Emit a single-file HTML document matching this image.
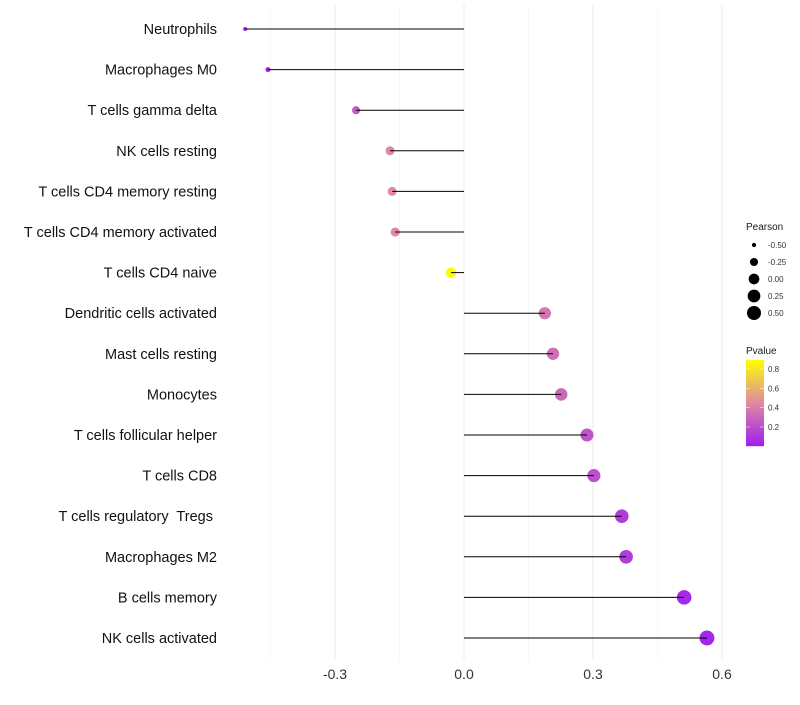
<!DOCTYPE html>
<html><head><meta charset="utf-8"><style>
body{margin:0;background:#fff;font-family:"Liberation Sans",sans-serif}
svg text{font-family:"Liberation Sans",sans-serif;white-space:pre}
</style></head><body>
<svg id="c" width="800" height="700"></svg>
<script>
const categories=["Neutrophils","Macrophages M0","T cells gamma delta","NK cells resting","T cells CD4 memory resting","T cells CD4 memory activated","T cells CD4 naive","Dendritic cells activated","Mast cells resting","Monocytes","T cells follicular helper","T cells CD8","T cells regulatory  Tregs ","Macrophages M2","B cells memory","NK cells activated"];
const pearson=[-0.509,-0.456,-0.251,-0.172,-0.167,-0.160,-0.030,0.188,0.207,0.226,0.286,0.302,0.367,0.377,0.512,0.565];
const pvalue=[0.03,0.05,0.25,0.45,0.45,0.45,0.88,0.37,0.34,0.31,0.22,0.2,0.12,0.12,0.04,0.03];
const xTicks=[-0.3,0,0.3,0.6];
const xTickLabels=["-0.3","0.0","0.3","0.6"];
const sizeLegend=[-0.5,-0.25,0,0.25,0.5];
const pLegend=[0.2,0.4,0.6,0.8];
const NS="http://www.w3.org/2000/svg",svg=document.getElementById('c');
function el(t,a,p){const e=document.createElementNS(NS,t);for(const k in a)e.setAttribute(k,a[k]);(p||svg).appendChild(e);return e;}
const x=v=>464+v*430, y=i=>29+i*40.6;
const rScale=v=>Math.sqrt(4+(v+0.51)*48);
function mix(a,b,t){return a.map((c,i)=>Math.round(c+(b[i]-c)*t));}
function col(p){const P=[160,32,240],M=[223,138,160],Y=[255,255,0];const t=Math.max(0,Math.min(1,(p-0.004)/0.889));
 const c=t<0.5?mix(P,M,t/0.5):mix(M,Y,(t-0.5)/0.5);return `rgb(${c})`;}
const yb=(p)=>446-(p-0.004)/0.889*86;
[-0.45,-0.15,0.15,0.45].forEach(v=>{const g=el('line',{x1:x(v),x2:x(v),y1:5,y2:660,stroke:'#f2f2f2','stroke-width':0.6});});
xTicks.forEach((v,i)=>{const g=el('line',{x1:x(v),x2:x(v),y1:5,y2:660,stroke:'#ebebeb','stroke-width':1});
 const t=el('text',{x:x(v),y:679,'text-anchor':'middle','font-size':14,fill:'#333'});t.textContent=xTickLabels[i];});
categories.forEach((c,i)=>{
 const t=el('text',{x:217,y:y(i)+5,'text-anchor':'end','font-size':14.5,fill:'#111'});t.textContent=c;
 const d=el('circle',{cx:x(pearson[i]),cy:y(i),r:rScale(pearson[i]),fill:col(pvalue[i])});
 const l=el('line',{x1:x(0),x2:x(pearson[i]),y1:y(i),y2:y(i),stroke:'#000','stroke-width':1});
});
let t=el('text',{x:746,y:230,'font-size':10,fill:'#1a1a1a'});t.textContent="Pearson";
sizeLegend.forEach((v,i)=>{const cy=245+i*17;const d=el('circle',{cx:754,cy:cy,r:Math.min(rScale(v),7),fill:'#000'});
 const tt=el('text',{x:768,y:cy+3,'font-size':8,fill:'#333'});tt.textContent=v.toFixed(2);});
t=el('text',{x:746,y:354,'font-size':10,fill:'#1a1a1a'});t.textContent="Pvalue";
for(let k=0;k<86;k++){const p=0.004+(85-k)/86*0.889;el('rect',{x:746,y:360+k,width:18,height:1.2,fill:col(p)});}
pLegend.forEach(p=>{const tt=el('text',{x:768,y:yb(p)+3,'font-size':8,fill:'#333'});tt.textContent=p.toFixed(1);
 el('line',{x1:746,x2:750,y1:yb(p),y2:yb(p),stroke:'#fff','stroke-width':0.5});el('line',{x1:760,x2:764,y1:yb(p),y2:yb(p),stroke:'#fff','stroke-width':0.5});});
</script></body></html>
